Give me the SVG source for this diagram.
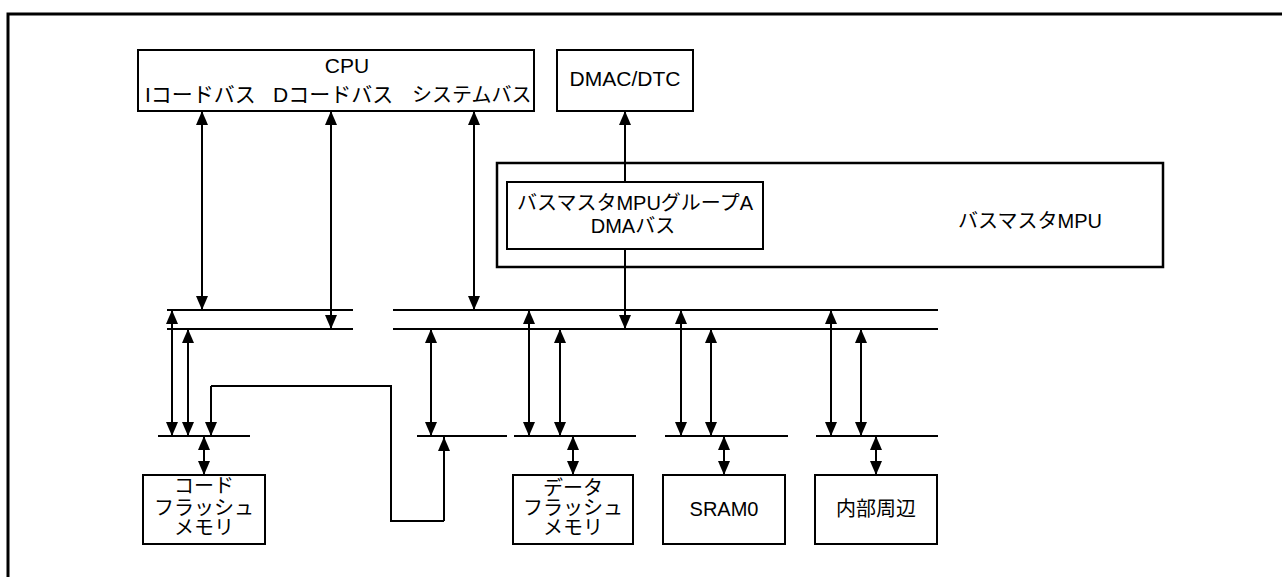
<svg xmlns="http://www.w3.org/2000/svg" width="1282" height="577" viewBox="0 0 1282 577">
<style>
.box{fill:#fff;stroke:#000;stroke-width:2}
.bus{stroke:#000;stroke-width:2;fill:none}
.ar{stroke:#000;stroke-width:2;fill:none}
.bi{marker-start:url(#ah);marker-end:url(#ah)}
.one{marker-end:url(#ah)}
text{font-family:"Liberation Sans","Noto Sans CJK JP",sans-serif;font-size:20px;fill:#000}
.big{font-size:21px}
.c{text-anchor:middle}
</style>
<defs>
<marker id="ah" markerUnits="userSpaceOnUse" markerWidth="16" markerHeight="14" refX="14" refY="7" orient="auto-start-reverse">
<path d="M0,1 L14,7 L0,13 z" fill="#000"/>
</marker>
</defs>
<rect width="1282" height="577" fill="#fff"/>
<g id="frame"><path d="M8,577 V14 H1282" fill="none" stroke="#000" stroke-width="3"/></g>

<g id="cpu">
<rect class="box" x="138" y="50" width="396" height="61"/>
<text class="c big" x="347" y="73">CPU</text>
<text class="big" x="145" y="102">Iコードバス</text>
<text class="big" x="273" y="102">Dコードバス</text>
<text x="412" y="102">システムバス</text>
</g>
<g id="dmac">
<rect class="box" x="557" y="50" width="136" height="61"/>
<text class="c big" x="625" y="86">DMAC/DTC</text>
</g>
<g id="busmaster-mpu">
<rect x="497" y="163" width="666" height="104" fill="#fff" stroke="#000" stroke-width="2.5"/>
<text class="c" x="1030" y="228">バスマスタMPU</text>
</g>
<g id="mpu-group-a">
<rect class="box" x="507" y="182" width="256" height="67"/>
<text class="c" x="635" y="210">バスマスタMPUグループA</text>
<text class="c" x="633" y="233">DMAバス</text>
</g>
<g id="code-flash">
<rect class="box" x="143" y="475" width="122" height="69"/>
<text class="c" x="204" y="493">コード</text>
<text class="c" x="204" y="515">フラッシュ</text>
<text class="c" x="204" y="535">メモリ</text>
</g>
<g id="data-flash">
<rect class="box" x="513" y="475" width="120" height="69"/>
<text class="c" x="573" y="495">データ</text>
<text class="c" x="573" y="515">フラッシュ</text>
<text class="c" x="573" y="535">メモリ</text>
</g>
<g id="sram0">
<rect class="box" x="663" y="475" width="122" height="69"/>
<text class="c" x="724" y="516">SRAM0</text>
</g>
<g id="peripheral">
<rect class="box" x="815" y="475" width="122" height="69"/>
<text class="c" x="876" y="516">内部周辺</text>
</g>

<g id="connectors">
<g id="buses" class="bus">
<path d="M167,310 H353 M167,329 H353"/>
<path d="M393,310 H938 M393,329 H938"/>
<path d="M158,436 H250"/>
<path d="M417,436 H507"/>
<path d="M514,436 H636"/>
<path d="M665,436 H788"/>
<path d="M816,436 H938"/>
</g>
<g class="ar">
<path class="bi" d="M202,111 V310"/>
<path class="bi" d="M331,111 V329"/>
<path class="bi" d="M474,111 V310"/>
<path class="one" d="M625,182 V111"/>
<path class="one" d="M625,249 V329"/>
<path class="bi" d="M172,310 V436"/>
<path class="bi" d="M188,329 V436"/>
<path d="M211,386 H391 V521 H444"/>
<path class="one" d="M444,521 V437"/>
<path class="one" d="M211,386 V436"/>
<path class="bi" d="M431,329 V436"/>
<path class="bi" d="M529,310 V436"/>
<path class="bi" d="M560,329 V436"/>
<path class="bi" d="M681,310 V436"/>
<path class="bi" d="M711,329 V436"/>
<path class="bi" d="M831,310 V436"/>
<path class="bi" d="M861,329 V436"/>
<path class="bi" d="M204,436 V475"/>
<path class="bi" d="M573,436 V475"/>
<path class="bi" d="M724,436 V475"/>
<path class="bi" d="M876,436 V475"/>
</g>
</g>
</svg>
